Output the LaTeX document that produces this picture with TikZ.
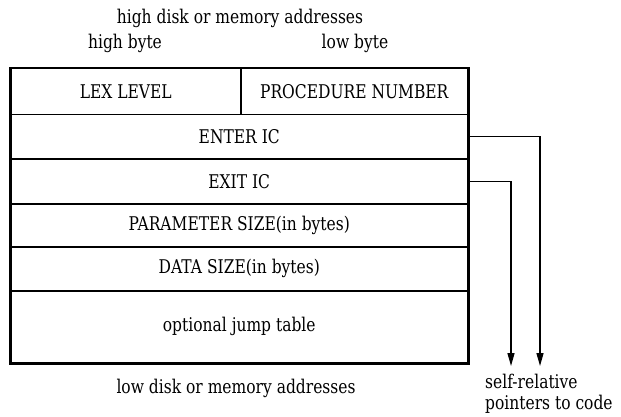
\documentclass[tikz,border=0pt]{standalone}
\usepackage{fontspec}
\setmainfont{DejaVu Serif}[FakeStretch=0.82]
\usetikzlibrary{arrows.meta}
\begin{document}
\begin{tikzpicture}[x=1pt,y=-1pt,
  field/.style={draw,line width=1.5pt,inner sep=0pt,anchor=north west,font=\fontsize{18.9}{21}\selectfont},
  caption/.style={inner sep=0pt,font=\fontsize{18.9}{20.5}\selectfont},
  pointer/.style={line width=1.3pt,-{Triangle[length=13pt,width=7pt]}}]
\useasboundingbox (0,0) rectangle (621,417);
% header labels
\node[caption] (hi)   at (240,18) {high disk or memory addresses};
\node[caption] (hib)  at (125,43) {high byte};
\node[caption] (lob)  at (355,43) {low byte};
% the record, one row per field
\node[field,minimum width=230pt,minimum height=46pt] (lex)  at (10,68)  {LEX LEVEL};
\node[field,minimum width=227pt,minimum height=46pt] (proc) at (240,68) {PROCEDURE NUMBER};
\node[field,minimum width=457pt,minimum height=44pt] (enter) at (10,114) {ENTER IC};
\node[field,minimum width=457pt,minimum height=45pt] (exit)  at (10,158) {EXIT IC};
\node[field,minimum width=457pt,minimum height=43pt] (param) at (10,203) {PARAMETER SIZE(in bytes)};
\node[field,minimum width=457pt,minimum height=44pt] (data)  at (10,246) {DATA SIZE(in bytes)};
\node[field,minimum width=457pt,minimum height=72pt] (jump)  at (10,290) {optional jump table};
% heavier outer frame
\draw[line width=2.2pt] (lex.north west) rectangle (jump.south east);
\node[caption] (lo) at (236,388) {low disk or memory addresses};
% self-relative pointers
\coordinate (enterend) at (540,366);
\coordinate (exitend)  at (511,366);
\draw[pointer] (enter.east) -| (enterend);
\draw[pointer] (exit.east) -| (exitend);
\node[caption,align=left,anchor=north west] (note) at (485,374) {self-relative\\pointers to code};
\end{tikzpicture}
\end{document}
